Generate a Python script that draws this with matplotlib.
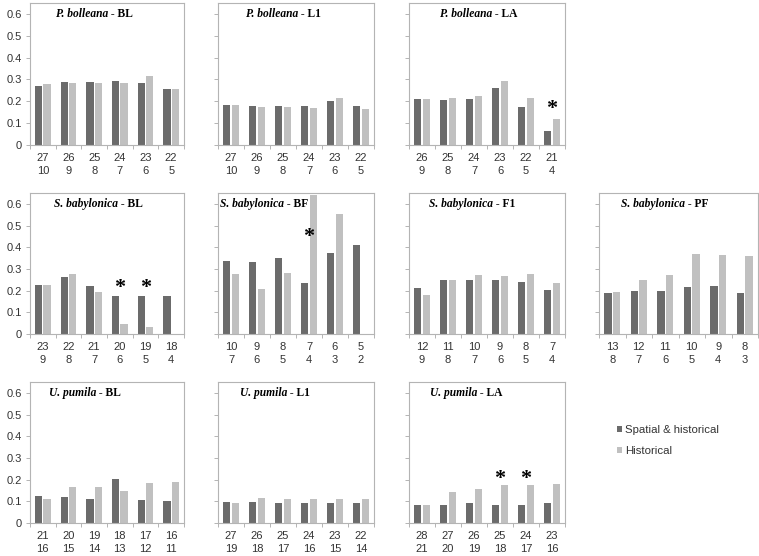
import numpy as np
import matplotlib.pyplot as plt
from matplotlib.patches import Patch

plt.rcParams['font.family'] = ['Liberation Sans', 'DejaVu Sans']

# ---- data ----
pb_bl_ticks = ["27\n10", "26\n9", "25\n8", "24\n7", "23\n6", "22\n5"]
pb_bl_spatial = [0.268, 0.290, 0.290, 0.294, 0.286, 0.255]
pb_bl_hist = [0.277, 0.286, 0.283, 0.283, 0.318, 0.258]

pb_l1_ticks = ["27\n10", "26\n9", "25\n8", "24\n7", "23\n6", "22\n5"]
pb_l1_spatial = [0.182, 0.180, 0.180, 0.179, 0.200, 0.179]
pb_l1_hist = [0.182, 0.174, 0.174, 0.171, 0.216, 0.167]

pb_la_ticks = ["26\n9", "25\n8", "24\n7", "23\n6", "22\n5", "21\n4"]
pb_la_spatial = [0.209, 0.208, 0.212, 0.261, 0.174, 0.063]
pb_la_hist = [0.212, 0.214, 0.223, 0.292, 0.214, 0.121]

sb_bl_ticks = ["23\n9", "22\n8", "21\n7", "20\n6", "19\n5", "18\n4"]
sb_bl_spatial = [0.227, 0.263, 0.219, 0.175, 0.175, 0.177]
sb_bl_hist = [0.225, 0.275, 0.195, 0.044, 0.034, 0.0]

sb_bf_ticks = ["10\n7", "9\n6", "8\n5", "7\n4", "6\n3", "5\n2"]
sb_bf_spatial = [0.336, 0.333, 0.352, 0.233, 0.372, 0.411]
sb_bf_hist = [0.275, 0.208, 0.281, 0.640, 0.553, 0.0]

sb_f1_ticks = ["12\n9", "11\n8", "10\n7", "9\n6", "8\n5", "7\n4"]
sb_f1_spatial = [0.211, 0.247, 0.250, 0.247, 0.241, 0.202]
sb_f1_hist = [0.180, 0.247, 0.272, 0.269, 0.275, 0.233]

sb_pf_ticks = ["13\n8", "12\n7", "11\n6", "10\n5", "9\n4", "8\n3"]
sb_pf_spatial = [0.188, 0.197, 0.197, 0.217, 0.219, 0.191]
sb_pf_hist = [0.194, 0.250, 0.273, 0.367, 0.366, 0.358]

up_bl_ticks = ["21\n16", "20\n15", "19\n14", "18\n13", "17\n12", "16\n11"]
up_bl_spatial = [0.123, 0.118, 0.112, 0.205, 0.108, 0.100]
up_bl_hist = [0.111, 0.166, 0.166, 0.148, 0.186, 0.188]

up_l1_ticks = ["27\n19", "26\n18", "25\n17", "24\n16", "23\n15", "22\n14"]
up_l1_spatial = [0.098, 0.095, 0.092, 0.092, 0.092, 0.091]
up_l1_hist = [0.091, 0.114, 0.112, 0.112, 0.111, 0.111]

up_la_ticks = ["28\n21", "27\n20", "26\n19", "25\n18", "24\n17", "23\n16"]
up_la_spatial = [0.084, 0.081, 0.090, 0.083, 0.083, 0.093]
up_la_hist = [0.084, 0.142, 0.159, 0.173, 0.173, 0.182]

# significance stars: (category index, height)
pb_la_stars = [(5, 0.185)]
sb_bl_stars = [(3, 0.235), (4, 0.235)]
sb_bf_stars = [(3, 0.47)]
up_la_stars = [(3, 0.225), (4, 0.225)]

legend_labels = ["Spatial & historical", "Historical"]

# ---- layout ----
W, H = 759, 556
cols = [(30, 184), (218, 374), (409, 565), (599, 758)]
rows = [(3, 145), (193, 334), (382, 523)]

DARK = '#6b6b6b'
LIGHT = '#c0c0c0'
SPINE = '#b4b4b4'
TXT = '#333333'

panels = [
    (0, 0, "P. bolleana", "BL", pb_bl_ticks, pb_bl_spatial, pb_bl_hist, [], 26),
    (0, 1, "P. bolleana", "L1", pb_l1_ticks, pb_l1_spatial, pb_l1_hist, [], 28),
    (0, 2, "P. bolleana", "LA", pb_la_ticks, pb_la_spatial, pb_la_hist, pb_la_stars, 31),
    (1, 0, "S. babylonica", "BL", sb_bl_ticks, sb_bl_spatial, sb_bl_hist, sb_bl_stars, 24),
    (1, 1, "S. babylonica", "BF", sb_bf_ticks, sb_bf_spatial, sb_bf_hist, sb_bf_stars, 2),
    (1, 2, "S. babylonica", "F1", sb_f1_ticks, sb_f1_spatial, sb_f1_hist, [], 20),
    (1, 3, "S. babylonica", "PF", sb_pf_ticks, sb_pf_spatial, sb_pf_hist, [], 22),
    (2, 0, "U. pumila", "BL", up_bl_ticks, up_bl_spatial, up_bl_hist, [], 19),
    (2, 1, "U. pumila", "L1", up_l1_ticks, up_l1_spatial, up_l1_hist, [], 22),
    (2, 2, "U. pumila", "LA", up_la_ticks, up_la_spatial, up_la_hist, up_la_stars, 21),
]

fig = plt.figure(figsize=(W / 100, H / 100), dpi=100)

for r, c, species, code, ticks, spatial, hist, stars, tx in panels:
    x0, x1 = cols[c]
    y0, y1 = rows[r]
    ax = fig.add_axes([x0 / W, 1 - y1 / H, (x1 - x0) / W, (y1 - y0) / H])
    x = np.arange(len(ticks))
    ax.bar(x - 0.165, spatial, width=0.29, color=DARK, zorder=2)
    ax.bar(x + 0.165, hist, width=0.29, color=LIGHT, zorder=2)
    ax.set_xlim(-0.5, len(ticks) - 0.5)
    ax.set_ylim(0, 0.65)

    ax.set_xticks(x)
    ax.set_xticklabels(ticks, fontsize=8, color=TXT, linespacing=1.3)
    ax.set_xticks(np.arange(len(ticks) + 1) - 0.5, minor=True)
    ax.tick_params(axis='x', which='major', length=0, pad=6)
    ax.tick_params(axis='x', which='minor', length=3, color=SPINE, width=0.7)

    ax.set_yticks([0, 0.1, 0.2, 0.3, 0.4, 0.5, 0.6])
    ax.tick_params(axis='y', length=3, color=SPINE, width=0.7, pad=3,
                   labelsize=8, labelcolor=TXT)
    if c == 0:
        ax.set_yticklabels(['0', '0.1', '0.2', '0.3', '0.4', '0.5', '0.6'])
    else:
        ax.set_yticklabels([])

    for s in ax.spines.values():
        s.set_color(SPINE)
        s.set_linewidth(0.8)

    # panel title: italic species + bold code
    t1 = ax.text(tx / (x1 - x0), 0.6, species, transform=ax.get_yaxis_transform(),
                 fontsize=8.3, family='Liberation Serif', style='italic',
                 fontweight='bold', va='center', ha='left', color='black')
    ax.annotate(" - " + code, xy=(1, 0), xycoords=t1, va='bottom', ha='left',
                fontsize=8.3, family='Liberation Serif', fontweight='bold',
                color='black')

    for ci, h in stars:
        ax.annotate("*", xy=(ci, h), xytext=(0, -3.5), textcoords='offset points',
                    ha='center', va='center', fontsize=16,
                    family='Liberation Serif', fontweight='bold', color='black',
                    zorder=3)

handles = [Patch(facecolor=DARK), Patch(facecolor=LIGHT)]
fig.legend(handles, legend_labels, loc='center left',
           bbox_to_anchor=(617 / W, 1 - 440.5 / H), frameon=False,
           fontsize=8.2, handlelength=0.45, handleheight=0.45,
           handletextpad=0.25, labelspacing=1.0, borderpad=0,
           borderaxespad=0, labelcolor=TXT)

fig.savefig('out.png', dpi=100, facecolor='white')
